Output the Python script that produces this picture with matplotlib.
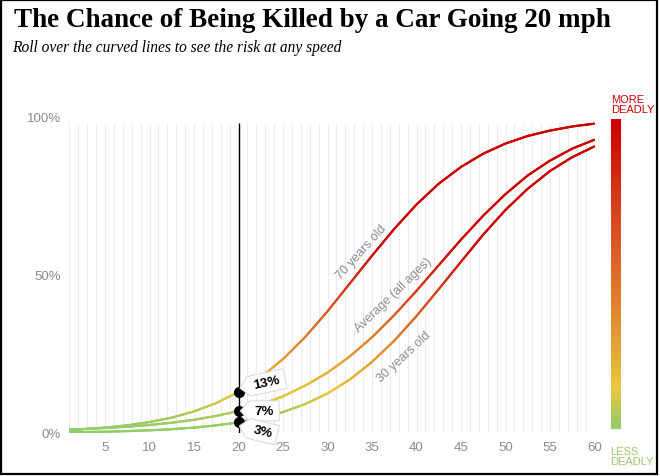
import numpy as np
import matplotlib
matplotlib.use("Agg")
import matplotlib.pyplot as plt
from matplotlib.collections import LineCollection
from matplotlib.colors import LinearSegmentedColormap
from matplotlib.patches import Rectangle
from matplotlib.path import Path

# data (percent chance of death by impact speed in mph)
speed = [1, 2.5, 5, 7.5, 10, 12.5, 15, 17.5, 20, 22.5, 25, 27.5, 30,
         32.5, 35, 37.5, 40, 42.5, 45, 47.5, 50, 52.5, 55, 57.5, 60]
age70 = [0.98, 1.21, 1.72, 2.44, 3.46, 4.87, 6.82, 9.47, 13.0, 17.6, 23.4, 30.4, 38.5,
         47.3, 56.1, 64.6, 72.3, 78.9, 84.2, 88.4, 91.6, 94.0, 95.7, 97.0, 97.9]
average = [1.08, 1.24, 1.57, 1.99, 2.54, 3.26, 4.19, 5.4, 7.0, 9.0, 11.6, 15.0, 19.1,
           24.2, 30.3, 37.3, 45.0, 53.1, 61.2, 68.8, 75.6, 81.5, 86.2, 90.0, 92.8]
age30 = [0.24, 0.30, 0.42, 0.60, 0.85, 1.21, 1.71, 2.41, 3.39, 4.75, 6.63, 9.16, 12.5,
         16.9, 22.5, 29.2, 37.0, 45.5, 54.2, 62.8, 70.6, 77.3, 82.9, 87.3, 90.7]

series_names = ["70 years old", "Average (all ages)", "30 years old"]
callout_labels = ["13%", "7%", "3%"]
highlight_speed = 20
x_ticks = [5, 10, 15, 20, 25, 30, 35, 40, 45, 50, 55, 60]
y_ticks = [0, 50, 100]
y_ticklabels = ["0%", "50%", "100%"]

W, H = 660, 477
plt.rcParams["font.family"] = ["Liberation Sans", "DejaVu Sans"]

fig = plt.figure(figsize=(W / 100, H / 100), dpi=100)
fig.patch.set_facecolor("white")


def fx(px):
    return px / W


def fy(py):
    return 1 - py / H


def tag_box(x0, y0, width, height, mutation_size):
    # rectangle with a point on the left, like a price tag
    px, py = 0.4 * mutation_size, 0.3 * mutation_size
    x0, y0 = x0 - px, y0 - py
    x1, y1 = x0 + width + 2 * px, y0 + height + 2 * py
    tip = x0 - 0.45 * (y1 - y0)
    verts = [(x0, y0), (x1, y0), (x1, y1), (x0, y1), (tip, (y0 + y1) / 2), (x0, y0)]
    return Path(verts, closed=True)


# plot area: mph 1 at x=69.4px, mph 60 at x=594.5px ; 0% at y=434px, 100% at y=118px
ax = fig.add_axes([fx(69.4), fy(434), fx(594.5) - fx(69.4), 316 / H])
ax.set_xlim(1, 60)
ax.set_ylim(0, 100)
for s in ax.spines.values():
    s.set_visible(False)
ax.tick_params(length=0, colors="#999999", labelsize=9.5)
ax.tick_params(axis="y", pad=6)
ax.tick_params(axis="x", pad=6)
ax.set_xticks(x_ticks)
ax.set_yticks(y_ticks)
ax.set_yticklabels(y_ticklabels)
for lab in ax.get_xticklabels() + ax.get_yticklabels():
    lab.set_color("#8c8c8c")

# light vertical grid, one line per mph
ax.vlines(np.arange(1, 61), 0, 98, color="#ececec", lw=0.8, zorder=0)

curve_cmap = LinearSegmentedColormap.from_list("curve", [
    (0.0, "#8fcd6b"), (0.05, "#a9cb5f"), (0.13, "#e6c63c"), (0.2, "#e4ad36"),
    (0.3, "#e0812f"), (0.4, "#da5522"), (0.5, "#d22a18"), (0.6, "#cc0000"),
    (1.0, "#cc0000")])

for values in (age70, average, age30):
    xs = np.asarray(speed, float)
    ys = np.asarray(values, float)
    # split each drawn segment so the colour gradient looks smooth
    t = np.linspace(0, len(xs) - 1, 600)
    px = np.interp(t, np.arange(len(xs)), xs)
    py = np.interp(t, np.arange(len(ys)), ys)
    pts = np.column_stack([px, py]).reshape(-1, 1, 2)
    segs = np.concatenate([pts[:-1], pts[1:]], axis=1)
    lc = LineCollection(segs, colors=curve_cmap((py[:-1] + py[1:]) / 200),
                        linewidths=1.6, capstyle="round", zorder=3)
    ax.add_collection(lc)

# curve labels
label_pos = [(33.8, 57.5, 48), (37.4, 44.0, 44), (38.6, 24.2, 43)]
for name, (lx, ly, rot) in zip(series_names, label_pos):
    ax.text(lx, ly, name, rotation=rot, rotation_mode="anchor",
            ha="center", va="center", color="#8a8a96", fontsize=9)

# highlight line at 20 mph
ax.vlines(highlight_speed, 0, 98, color="black", lw=1, zorder=4)
idx = speed.index(highlight_speed)
hl_values = [age70[idx], average[idx], age30[idx]]
ax.plot([highlight_speed] * 3, hl_values, "o", color="black", ms=7,
        zorder=6, clip_on=False)

callout_pos = [(23.2, 16.0, 12), (22.9, 7.0, 0), (22.7, 0.4, -14)]
for text, (cx, cy, rot) in zip(callout_labels, callout_pos):
    ax.text(cx, cy, text, rotation=rot, rotation_mode="anchor", ha="center", va="center",
            fontsize=9.5, fontweight="bold", color="black", zorder=7,
            bbox=dict(boxstyle=tag_box, fc="white", ec="#dcdcdc", lw=0.8))

# colour legend bar on the right
bar_cmap = LinearSegmentedColormap.from_list("bar", [
    (0.0, "#8fcd6b"), (0.13, "#e8c63e"), (0.4, "#e0812f"),
    (0.7, "#d8441f"), (1.0, "#cc0000")])
cax = fig.add_axes([fx(611), fy(430), 10 / W, 310 / H])
cax.imshow(np.linspace(1, 0, 256).reshape(-1, 1), cmap=bar_cmap, aspect="auto",
           extent=[0, 1, 0, 1])
cax.set_axis_off()
fig.text(fx(611), fy(113), "MORE\nDEADLY", color="#cc0000", fontsize=8,
         ha="left", va="baseline", linespacing=0.95)
fig.text(fx(610), fy(465), "LESS\nDEADLY", color="#9ccb6a", fontsize=8,
         ha="left", va="baseline", linespacing=0.95)

# title + subtitle, scaled to the reference widths
title = fig.text(fx(14), fy(27), "The Chance of Being Killed by a Car Going 20 mph",
                 fontsize=20, fontweight="bold", family="Liberation Serif",
                 ha="left", va="baseline", color="black")
subtitle = fig.text(fx(12), fy(52), "Roll over the curved lines to see the risk at any speed",
                    fontsize=10, style="italic", family="Liberation Serif",
                    ha="left", va="baseline", color="black")
fig.canvas.draw()
title.set_fontsize(20 * 598 / title.get_window_extent().width)
subtitle.set_fontsize(10 * 332 / subtitle.get_window_extent().width)

# frame
fig.add_artist(Rectangle((fx(1), fy(475)), fx(656), (474 / H), transform=fig.transFigure,
                         fill=False, ec="black", lw=1.6))

fig.savefig("out.png", dpi=100)
